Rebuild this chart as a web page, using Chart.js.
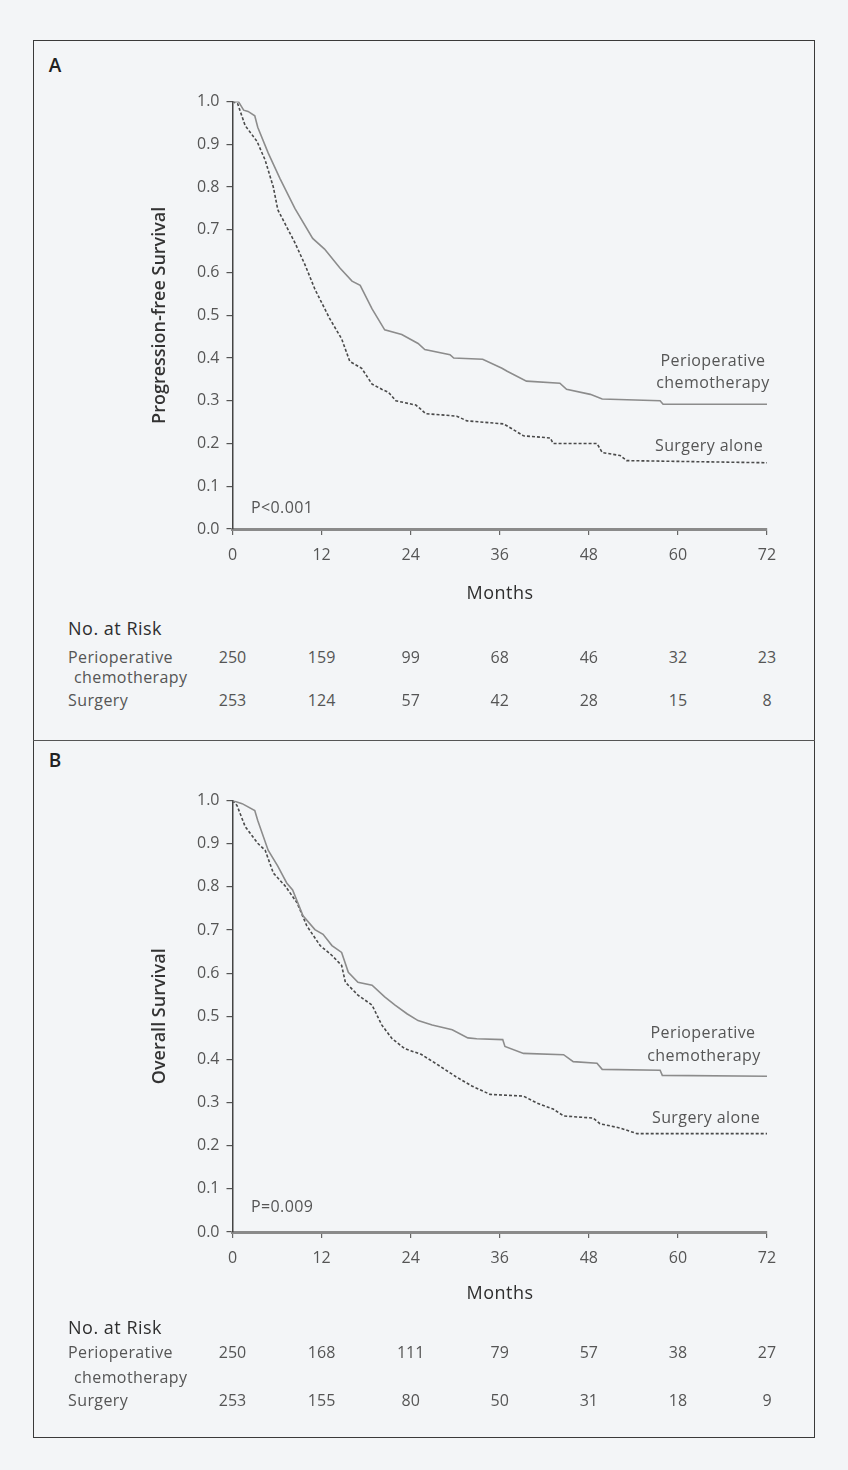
<!DOCTYPE html>
<html>
<head>
<meta charset="utf-8">
<script src="https://cdn.jsdelivr.net/npm/chart.js@4.4.1/dist/chart.umd.min.js"></script>
<style>
  html, body { margin: 0; padding: 0; }
  body { width: 848px; height: 1470px; background: #f3f5f7; position: relative; overflow: hidden;
         font-family: "Open Sans", "DejaVu Sans", sans-serif; color: #4a4a4a; }
  .frame { position: absolute; left: 33px; top: 40px; width: 780px; height: 1396px; border: 1.5px solid #3a3a3a; }
  .sep { position: absolute; left: 33px; top: 740px; width: 782px; height: 0; border-top: 1.5px solid #555; }
  canvas { position: absolute; }
  .t { position: absolute; white-space: nowrap; line-height: 1; }
  .c { transform: translate(-50%, -50%); }
  .l { transform: translateY(-50%); }
  .panel { font-size: 19px; font-weight: 600; color: #222; }
  .lab { font-size: 16px; color: #555; letter-spacing: 0.4px; }
  .hdr { font-size: 18px; color: #2e2e2e; letter-spacing: 0.5px; }
  .num { font-size: 16px; color: #555; }
</style>
</head>
<body>
<div class="frame"></div>
<div class="sep"></div>
<canvas id="chartA" width="680" height="530" style="left:130px;top:85px"></canvas>
<canvas id="chartB" width="680" height="534" style="left:130px;top:784px"></canvas>
<div id="overlay"></div>
<script>
// x axis ticks (months) and y axis range
const months = [0, 12, 24, 36, 48, 60, 72];
const yMin = 0, yMax = 1, yStep = 0.1;

// Panel A: progression-free survival, [month, proportion]
const pfsChemo = [[0,1.0],[0.8,1.0],[1.5,0.98],[2.1,0.977],[3,0.967],[3.4,0.94],[4.8,0.88],[6.4,0.82],[8.4,0.75],
  [10.8,0.68],[12.4,0.655],[14.5,0.61],[16.1,0.58],[17.2,0.57],[18.8,0.515],[20.5,0.466],[22.8,0.455],[25,0.434],
  [25.9,0.42],[29.3,0.408],[29.8,0.40],[33.7,0.397],[36.3,0.376],[37,0.369],[39.6,0.346],[44.1,0.341],[45,0.327],
  [48.2,0.315],[49.8,0.304],[57.6,0.30],[58,0.292],[72,0.292]];
const pfsSurgery = [[0,1.0],[0.7,0.995],[1.7,0.944],[3.3,0.907],[4.4,0.863],[5.5,0.80],[6.1,0.747],[8.4,0.67],
  [9.8,0.617],[11.1,0.561],[13.1,0.492],[14.7,0.445],[15.8,0.392],[17.4,0.376],[18.8,0.339],[20.1,0.327],[21,0.32],
  [22,0.30],[24.7,0.29],[25.2,0.283],[26,0.27],[30.2,0.264],[31.6,0.253],[36.5,0.246],[37.4,0.237],[39.2,0.218],
  [42.8,0.213],[43.2,0.2],[49.1,0.2],[49.8,0.179],[52.2,0.172],[53.1,0.16],[72,0.155]];

// Panel B: overall survival
const osChemo = [[0,1.0],[1.3,0.993],[3,0.977],[3.4,0.954],[4.8,0.885],[6.1,0.848],[7.3,0.809],[8.1,0.793],
  [9.5,0.733],[11.1,0.701],[12.2,0.69],[13.4,0.664],[14.7,0.648],[15.6,0.602],[16.9,0.579],[18.8,0.572],[20.5,0.545],
  [21.9,0.526],[23.5,0.506],[25,0.49],[26.9,0.48],[29.6,0.469],[31.7,0.45],[32.9,0.448],[36.4,0.446],[36.7,0.43],
  [39.2,0.414],[44.6,0.411],[45.9,0.395],[49.1,0.391],[49.8,0.377],[57.6,0.375],[57.9,0.363],[72,0.361]];
const osSurgery = [[0,1.0],[0.6,0.989],[1.7,0.94],[3.4,0.901],[4.4,0.885],[5.5,0.832],[7.1,0.802],[8.7,0.763],
  [10,0.71],[11.8,0.664],[13.4,0.641],[14.7,0.618],[15.2,0.579],[16.9,0.549],[18.8,0.526],[20.1,0.48],[21.5,0.448],
  [23.2,0.425],[25.4,0.412],[27.8,0.386],[30.1,0.36],[32.3,0.338],[34.7,0.319],[39.2,0.315],[41,0.299],[43.2,0.285],
  [44.6,0.269],[48.6,0.264],[49.5,0.251],[52.2,0.241],[54.5,0.228],[72,0.228]];

// Number at risk
const riskPfsChemo = [250, 159, 99, 68, 46, 32, 23];
const riskPfsSurgery = [253, 124, 57, 42, 28, 15, 8];
const riskOsChemo = [250, 168, 111, 79, 57, 38, 27];
const riskOsSurgery = [253, 155, 80, 50, 31, 18, 9];

const overlay = document.getElementById('overlay');
function addText(txt, x, y, cls) {
  const d = document.createElement('div');
  d.className = 't ' + cls;
  d.textContent = txt;
  d.style.left = x + 'px';
  d.style.top = y + 'px';
  overlay.appendChild(d);
}

function makeChart(id, yTitle, chemo, surgery) {
  const ctx = document.getElementById(id).getContext('2d');
  return new Chart(ctx, {
    type: 'line',
    data: {
      datasets: [
        { label: 'Perioperative chemotherapy', data: chemo.map(([x, y]) => ({ x, y })),
          borderColor: '#8c8c8c', borderWidth: 1.6, pointRadius: 0, tension: 0 },
        { label: 'Surgery alone', data: surgery.map(([x, y]) => ({ x, y })),
          borderColor: '#4a4a4a', borderWidth: 1.6, borderDash: [3, 2], pointRadius: 0, tension: 0 }
      ]
    },
    options: {
      responsive: false,
      devicePixelRatio: 1,
      animation: false,
      layout: { padding: { left: 0, right: 43, top: 13, bottom: 0 } },
      plugins: { legend: { display: false }, tooltip: { enabled: false } },
      scales: {
        x: {
          type: 'linear', min: months[0], max: months[months.length - 1],
          afterBuildTicks: s => { s.ticks = months.map(v => ({ value: v })); },
          afterFit: s => { s.height = 86; },
          ticks: { font: { family: 'Open Sans', size: 16 }, color: '#555', padding: 11, maxRotation: 0 },
          grid: { drawOnChartArea: false, tickLength: 6, color: '#666', lineWidth: 1.2 },
          border: { color: '#8a8a8a', width: 3 }
        },
        y: {
          min: yMin, max: yMax,
          afterFit: s => { s.width = 102.5; },
          ticks: { stepSize: yStep, callback: v => v.toFixed(1), font: { family: 'Open Sans', size: 16 },
                   color: '#555', padding: 7 },
          grid: { drawOnChartArea: false, tickLength: 6, color: '#555', lineWidth: 1.2 },
          border: { color: '#444', width: 1.5 },
          title: { display: true, text: yTitle, color: '#333', padding: { top: 19, bottom: 0 },
                   font: { family: 'Open Sans', size: 18, weight: '600' } }
        }
      }
    }
  });
}

const chartA = makeChart('chartA', 'Progression-free Survival', pfsChemo, pfsSurgery);
const chartB = makeChart('chartB', 'Overall Survival', osChemo, osSurgery);

function riskRows(chart, left, yRow1, yRow2, r1, r2) {
  months.forEach((m, i) => {
    const x = left + chart.scales.x.getPixelForValue(m);
    addText(r1[i], x, yRow1, 'num c');
    addText(r2[i], x, yRow2, 'num c');
  });
}

// Panel A annotations
addText('A', 55, 65, 'panel c');
addText('P<0.001', 251, 507, 'lab l');
addText('Perioperative', 713, 360, 'lab c');
addText('chemotherapy', 713, 382, 'lab c');
addText('Surgery alone', 709, 445, 'lab c');
addText('Months', 500, 592, 'hdr c');
addText('No. at Risk', 68, 628, 'hdr l');
addText('Perioperative', 68, 657, 'lab l');
addText('chemotherapy', 74, 677, 'lab l');
addText('Surgery', 68, 700, 'lab l');
riskRows(chartA, 130, 657, 700, riskPfsChemo, riskPfsSurgery);

// Panel B annotations
addText('B', 55, 760, 'panel c');
addText('P=0.009', 251, 1206, 'lab l');
addText('Perioperative', 703, 1032, 'lab c');
addText('chemotherapy', 704, 1055, 'lab c');
addText('Surgery alone', 706, 1117, 'lab c');
addText('Months', 500, 1292, 'hdr c');
addText('No. at Risk', 68, 1327, 'hdr l');
addText('Perioperative', 68, 1352, 'lab l');
addText('chemotherapy', 74, 1377, 'lab l');
addText('Surgery', 68, 1400, 'lab l');
riskRows(chartB, 130, 1352, 1400, riskOsChemo, riskOsSurgery);
</script>
</body>
</html>
